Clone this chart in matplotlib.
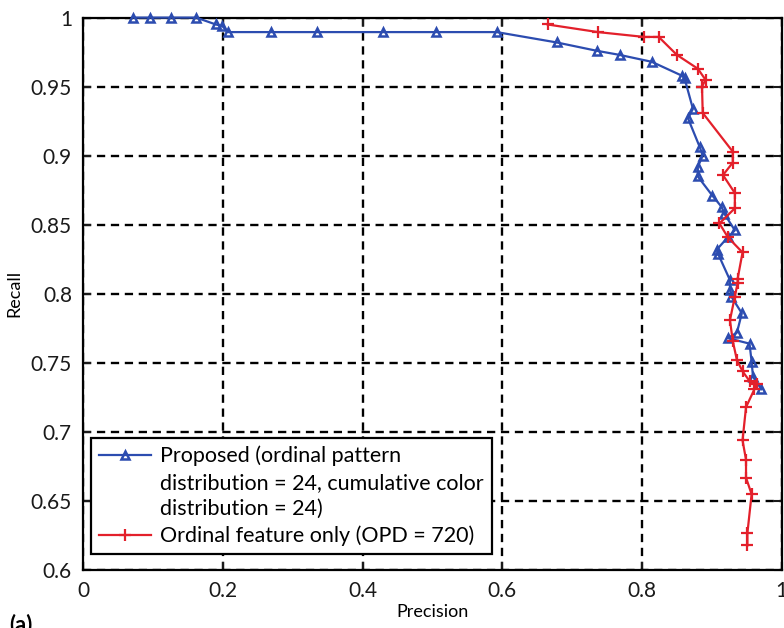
import numpy as np
import matplotlib.pyplot as plt
from matplotlib.lines import Line2D

plt.rcParams['font.family'] = ['Lato', 'DejaVu Sans']

# Proposed (ordinal pattern + cumulative color)
prop_precision = [0.072, 0.096, 0.126, 0.162, 0.190, 0.199, 0.207, 0.269, 0.335, 0.429,
                  0.505, 0.592, 0.678, 0.735, 0.768, 0.814, 0.857, 0.861, 0.873, 0.866,
                  0.883, 0.887, 0.880, 0.880, 0.901, 0.914, 0.918, 0.933, 0.923, 0.907,
                  0.909, 0.926, 0.926, 0.928, 0.943, 0.936, 0.923, 0.954, 0.957, 0.959,
                  0.971]
prop_recall = [1.0, 1.0, 1.0, 1.0, 0.995, 0.994, 0.9895, 0.9895, 0.9895, 0.9895,
               0.9895, 0.9895, 0.982, 0.976, 0.973, 0.968, 0.958, 0.956, 0.934, 0.927,
               0.906, 0.900, 0.892, 0.885, 0.871, 0.863, 0.858, 0.846, 0.841, 0.832,
               0.829, 0.810, 0.803, 0.798, 0.786, 0.772, 0.768, 0.764, 0.751, 0.740,
               0.731]

# Ordinal feature only
ord_precision = [0.665, 0.737, 0.803, 0.824, 0.850, 0.880, 0.891, 0.886, 0.887, 0.930,
                 0.930, 0.916, 0.933, 0.933, 0.911, 0.923, 0.944, 0.937, 0.937, 0.933,
                 0.926, 0.930, 0.936, 0.944, 0.954, 0.964, 0.961, 0.949, 0.944, 0.949,
                 0.949, 0.957, 0.951, 0.951]
ord_recall = [0.995, 0.9895, 0.986, 0.986, 0.973, 0.963, 0.955, 0.950, 0.931, 0.903,
              0.895, 0.886, 0.873, 0.862, 0.851, 0.841, 0.830, 0.811, 0.808, 0.798,
              0.781, 0.766, 0.752, 0.744, 0.737, 0.735, 0.731, 0.718, 0.694, 0.680,
              0.667, 0.655, 0.627, 0.618]

prop_label = ['Proposed (ordinal pattern', 'distribution = 24, cumulative color',
              'distribution = 24)']
ord_label = 'Ordinal feature only (OPD = 720)'

blue = '#2C4CB0'
red = '#E3202B'

fig = plt.figure(figsize=(7.84, 6.28), dpi=100)
ax = fig.add_axes([0.106, 0.092, 0.891, 0.880])

ax.plot(prop_precision, prop_recall, color=blue, lw=1.6, marker='^', ms=5.5,
        mfc='none', mew=1.8, clip_on=False, zorder=3)
ax.plot(ord_precision, ord_recall, color=red, lw=1.6, marker='+', ms=8,
        mew=1.6, clip_on=False, zorder=3)

ax.set_xlim(0, 1)
ax.set_ylim(0.6, 1)
ax.set_xticks(np.arange(0, 1.01, 0.2))
ax.set_xticklabels(['0', '0.2', '0.4', '0.6', '0.8', '1'])
ax.set_yticks(np.arange(0.6, 1.001, 0.05))
ax.set_yticklabels(['0.6', '0.65', '0.7', '0.75', '0.8', '0.85', '0.9', '0.95', '1'])
ax.tick_params(direction='in', length=6, width=1.5, top=True, right=True,
               labelsize=15, pad=8, colors='#1a1a1a')
ax.grid(True, color='black', lw=1.7, linestyle=(0, (3.5, 2.4)))
for s in ax.spines.values():
    s.set_linewidth(1.6)

ax.set_xlabel('Precision', fontsize=13, labelpad=2)
ax.set_ylabel('Recall', fontsize=13, labelpad=6)

handles = [Line2D([], [], color=blue, lw=1.6, marker='^', ms=5.5, mfc='none', mew=1.8),
           Line2D([], [], color='none'),
           Line2D([], [], color='none'),
           Line2D([], [], color=red, lw=1.6, marker='+', ms=8, mew=1.6)]
labels = prop_label + [ord_label]
leg = ax.legend(handles, labels, loc='lower left', bbox_to_anchor=(0.012, 0.03),
                fontsize=15.5, frameon=True, fancybox=False, edgecolor='black',
                framealpha=1, labelspacing=0.3, handlelength=2.4,
                handletextpad=0.45, borderpad=0.35, borderaxespad=0)
leg.get_frame().set_linewidth(1.6)

fig.text(0.012, 0.006, '(a)', fontsize=16, fontweight='bold', va='center')

fig.savefig('out.png', dpi=100)
